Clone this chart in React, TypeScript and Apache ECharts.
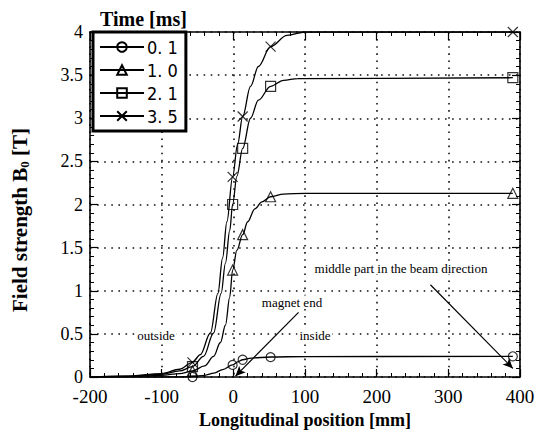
import React, { useEffect, useRef } from "react";
import * as echarts from "echarts";

const seriesNames = ["0. 1", "1. 0", "2. 1", "3. 5"];
const markerSymbols = ["circle", "triangle", "rect", "path://M0,0L10,10M10,0L0,10"];
const markerSizes = [9, 10, 10, 10];

const markerX = [-57, -1, 13, 52, 390];
const markers01 = [0, 0.14, 0.2, 0.23, 0.24];
const markers10 = [0.07, 1.24, 1.65, 2.09, 2.13];
const markers21 = [0.12, 2.0, 2.65, 3.37, 3.47];
const markers35 = [0.17, 2.32, 3.02, 3.83, 4.0];

const curve01 = [
  [-200, 0], [-100, 0], [-57, 0.005], [-40, 0.02], [-27, 0.045], [-15, 0.085],
  [-1, 0.14], [6, 0.175], [13, 0.2], [25, 0.22], [52, 0.232], [100, 0.237], [390, 0.24],
];
const curve10 = [
  [-200, 0], [-150, 0.005], [-100, 0.02], [-75, 0.04], [-57, 0.07], [-40, 0.13],
  [-27.5, 0.24], [-18, 0.4], [-11, 0.6], [-5, 0.93], [-1, 1.24], [5, 1.47], [13, 1.65],
  [20, 1.8], [30, 1.95], [40, 2.03], [52, 2.09], [70, 2.12], [100, 2.13], [390, 2.13],
];
const curve21 = [
  [-200, 0], [-150, 0.01], [-100, 0.03], [-75, 0.07], [-57, 0.12], [-41.5, 0.24],
  [-27.5, 0.51], [-17, 0.97], [-11, 1.32], [-5, 1.7], [-1, 2.0], [5, 2.33], [13, 2.65],
  [24, 3.0], [35, 3.21], [52, 3.37], [70, 3.44], [90, 3.46], [390, 3.47],
];
const curve35 = [
  [-200, 0], [-150, 0.01], [-100, 0.04], [-75, 0.09], [-57, 0.17], [-46, 0.26],
  [-32, 0.51], [-21.5, 0.97], [-15, 1.38], [-9, 1.8], [-1, 2.32], [6, 2.7], [13, 3.02],
  [24, 3.37], [35, 3.6], [52, 3.83], [75, 3.96], [100, 4.0], [390, 4.0],
];

const magnetEndArrow = [[91, 0.75], [3, 0.01]];
const middleArrow = [[275, 1.07], [390, 0.1]];

const SERIF = "'Liberation Serif', 'Times New Roman', serif";
const NARROW = "'DejaVu Sans Condensed', 'Liberation Sans Narrow', 'Arial Narrow', sans-serif";

export default function App() {
  const ref = useRef<HTMLDivElement>(null);
  useEffect(() => {
    if (!ref.current) return;
    const chart = echarts.init(ref.current, undefined, { renderer: "svg" });
    const curves = [curve01, curve10, curve21, curve35];
    const marks = [markers01, markers10, markers21, markers35];
    const itemStyle = { color: "rgba(0,0,0,0)", borderColor: "#000", borderWidth: 1.2 };
    const lineSeries = seriesNames.map((name, i) => ({
      name,
      type: "line",
      data: curves[i],
      smooth: 0.35,
      smoothMonotone: "x",
      showSymbol: false,
      symbol: markerSymbols[i],
      symbolSize: markerSizes[i],
      lineStyle: { color: "#000", width: 1.3 },
      itemStyle,
      silent: true,
      z: 3,
    }));
    const scatterSeries = seriesNames.map((name, i) => ({
      name: name + " markers",
      type: "scatter",
      data: markerX.map((x, j) => [x, marks[i][j]]),
      symbol: markerSymbols[i],
      symbolSize: markerSizes[i],
      itemStyle,
      silent: true,
      z: 4,
      ...(i === 0
        ? {
            markLine: {
              silent: true,
              symbol: ["none", "arrow"],
              symbolSize: [7, 10],
              label: { show: false },
              lineStyle: { color: "#000", width: 1.2, type: "solid" },
              data: [
                [{ coord: magnetEndArrow[0] }, { coord: magnetEndArrow[1] }],
                [{ coord: middleArrow[0] }, { coord: middleArrow[1] }],
              ],
            },
          }
        : {}),
    }));
    const splitLine = { show: true, lineStyle: { color: "#111", type: [1.6, 5.5], width: 1.6 } };
    const axisLine = { show: true, onZero: false, lineStyle: { color: "#000", width: 1.6 } };
    const axisTick = { show: true, inside: true, length: 8, lineStyle: { color: "#000", width: 1.2 } };
    const minorTick = { show: true, splitNumber: 5, length: 4, lineStyle: { color: "#000", width: 1 } };
    const annText = (text: string, x: number, y: number) => ({
      type: "text",
      x,
      y,
      z: 10,
      style: {
        text,
        fontFamily: SERIF,
        fontSize: 13,
        fill: "#000",
        align: "center",
        verticalAlign: "middle",
        backgroundColor: "#fff",
        padding: [0, 2],
      },
    });
    chart.setOption({
      animation: false,
      backgroundColor: "#fff",
      grid: { left: 90, right: 23, top: 32, bottom: 64 },
      title: {
        text: "Time [ms]",
        left: 100,
        top: 9,
        padding: 0,
        textStyle: { fontFamily: SERIF, fontWeight: "bold", fontSize: 20, color: "#000" },
      },
      legend: {
        data: seriesNames,
        orient: "vertical",
        left: 93,
        top: 32,
        itemWidth: 44,
        itemHeight: 12,
        itemGap: 5,
        padding: [6, 8, 6, 6],
        borderColor: "#000",
        borderWidth: 3,
        backgroundColor: "#fff",
        selectedMode: false,
        textStyle: { fontFamily: NARROW, fontSize: 18, color: "#000", padding: [0, 0, 0, -2] },
      },
      xAxis: [
        {
          type: "value",
          min: -200,
          max: 400,
          interval: 100,
          position: "bottom",
          name: "Longitudinal position [mm]",
          nameLocation: "middle",
          nameGap: 26,
          nameTextStyle: { fontFamily: SERIF, fontWeight: "bold", fontSize: 18, color: "#000" },
          axisLine,
          axisTick,
          minorTick,
          splitLine,
          axisLabel: { fontFamily: SERIF, fontSize: 19, color: "#000", margin: 10 },
        },
        {
          type: "value",
          min: -200,
          max: 400,
          interval: 100,
          position: "top",
          axisLine,
          axisTick,
          minorTick,
          splitLine: { show: false },
          axisLabel: { show: false },
        },
      ],
      yAxis: [
        {
          type: "value",
          min: 0,
          max: 4,
          interval: 0.5,
          position: "left",
          axisLine,
          axisTick,
          minorTick,
          splitLine,
          axisLabel: { fontFamily: SERIF, fontSize: 18, color: "#000", margin: 7 },
        },
        {
          type: "value",
          min: 0,
          max: 4,
          interval: 0.5,
          position: "right",
          axisLine,
          axisTick,
          minorTick,
          splitLine: { show: false },
          axisLabel: { show: false },
        },
      ],
      graphic: [
        {
          type: "text",
          x: 20,
          y: 220,
          rotation: Math.PI / 2,
          style: {
            text: "Field strength B{s|0} [T]",
            fontFamily: SERIF,
            fontWeight: "bold",
            fontSize: 21,
            fill: "#000",
            align: "center",
            verticalAlign: "middle",
            rich: {
              s: { fontFamily: SERIF, fontWeight: "bold", fontSize: 13, verticalAlign: "bottom", padding: [8, 0, 0, 0] },
            },
          },
        },
        annText("outside", 156, 335),
        annText("inside", 315, 335),
        annText("magnet end", 292, 302),
        annText("middle part in the beam direction", 401, 268),
      ],
      series: [...lineSeries, ...scatterSeries],
    });
    return () => chart.dispose();
  }, []);
  return <div ref={ref} style={{ width: 543, height: 441, position: "absolute", left: 0, top: 0 }} />;
}
